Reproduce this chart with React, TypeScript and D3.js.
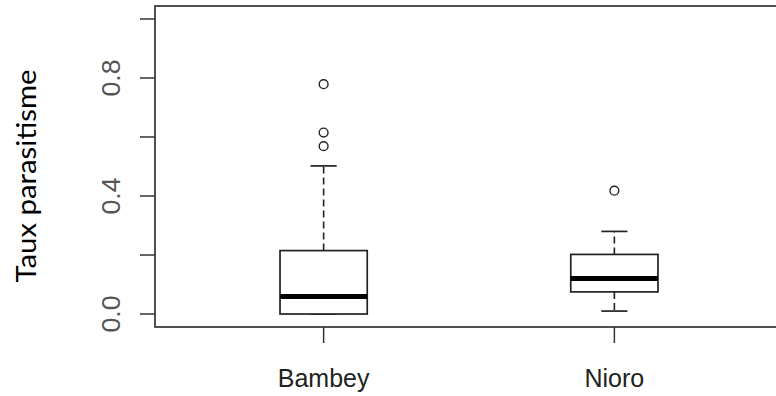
import React from "react";
import * as d3 from "d3";

const categories = ["Bambey", "Nioro"];
const lowerWhisker = [0.0, 0.01];
const q1 = [0.0, 0.075];
const medians = [0.059, 0.12];
const q3 = [0.215, 0.202];
const upperWhisker = [0.502, 0.28];
const outliers = [[0.779, 0.615, 0.569], [0.418]];
const yTicks = [0, 0.2, 0.4, 0.6, 0.8, 1.0];
const yTickLabels = ["0.0", "", "0.4", "", "0.8", ""];
const yTitle = "Taux parasitisme";

export default function App() {
  const W = 776, H = 396;
  const left = 155, right = 783, top = 6, bottom = 327;
  const x = d3.scaleLinear().domain([0.42, 2.58]).range([left, right]);
  const y = d3.scaleLinear().domain([-0.044, 1.044]).range([bottom, top]);
  const unit = x(2) - x(1);
  const halfBox = 0.15 * unit;
  const halfStaple = 0.045 * unit;
  const stroke = "#222";

  return (
    <svg width={W} height={H} style={{ position: "absolute", left: 0, top: 0, background: "#fff" }}>
      <rect x={0} y={0} width={W} height={H} fill="#fff" />
      {/* frame */}
      <rect x={left} y={top} width={right - left} height={bottom - top} fill="none" stroke="#333" strokeWidth={1.7} />
      {/* y axis ticks */}
      {yTicks.map((t, i) => (
        <g key={"yt" + i}>
          <line x1={140} x2={left} y1={y(t)} y2={y(t)} stroke="#333" strokeWidth={1.5} />
          {yTickLabels[i] && (
            <text
              transform={`translate(120,${y(t)}) rotate(-90)`}
              textAnchor="middle"
              fontFamily="Liberation Sans, Arial, sans-serif"
              fontSize={26}
              fill="#555"
              textLength={37}
              lengthAdjust="spacingAndGlyphs"
            >
              {yTickLabels[i]}
            </text>
          )}
        </g>
      ))}
      {/* y title */}
      <text
        transform={`translate(36,${176}) rotate(-90)`}
        textAnchor="middle"
        fontFamily="Lato, 'Open Sans', sans-serif"
        fontSize={26}
        fill="#000"
        textLength={213}
        lengthAdjust="spacingAndGlyphs"
      >
        {yTitle}
      </text>
      {/* x ticks and labels */}
      {categories.map((c, i) => (
        <g key={"xt" + i}>
          <line x1={x(i + 1)} x2={x(i + 1)} y1={bottom} y2={343} stroke="#333" strokeWidth={1.5} />
          <text
            x={x(i + 1)}
            y={387}
            textAnchor="middle"
            fontFamily="Liberation Sans, Arial, sans-serif"
            fontSize={25}
            fill="#222"
          >
            {c}
          </text>
        </g>
      ))}
      {/* boxes */}
      {categories.map((c, i) => {
        const cx = x(i + 1);
        return (
          <g key={"box" + i}>
            <line x1={cx} x2={cx} y1={y(q3[i])} y2={y(upperWhisker[i])} stroke={stroke} strokeWidth={1.6} strokeDasharray="7,4" />
            <line x1={cx} x2={cx} y1={y(q1[i])} y2={y(lowerWhisker[i])} stroke={stroke} strokeWidth={1.6} strokeDasharray="7,4" />
            <line x1={cx - halfStaple} x2={cx + halfStaple} y1={y(upperWhisker[i])} y2={y(upperWhisker[i])} stroke={stroke} strokeWidth={1.7} />
            <line x1={cx - halfStaple} x2={cx + halfStaple} y1={y(lowerWhisker[i])} y2={y(lowerWhisker[i])} stroke={stroke} strokeWidth={1.7} />
            <rect x={cx - halfBox} y={y(q3[i])} width={2 * halfBox} height={y(q1[i]) - y(q3[i])} fill="#fff" stroke={stroke} strokeWidth={1.7} />
            <line x1={cx - halfBox} x2={cx + halfBox} y1={y(medians[i])} y2={y(medians[i])} stroke="#000" strokeWidth={5} />
            {outliers[i].map((o, j) => (
              <circle key={j} cx={cx} cy={y(o)} r={4.4} fill="none" stroke={stroke} strokeWidth={1.4} />
            ))}
          </g>
        );
      })}
    </svg>
  );
}
